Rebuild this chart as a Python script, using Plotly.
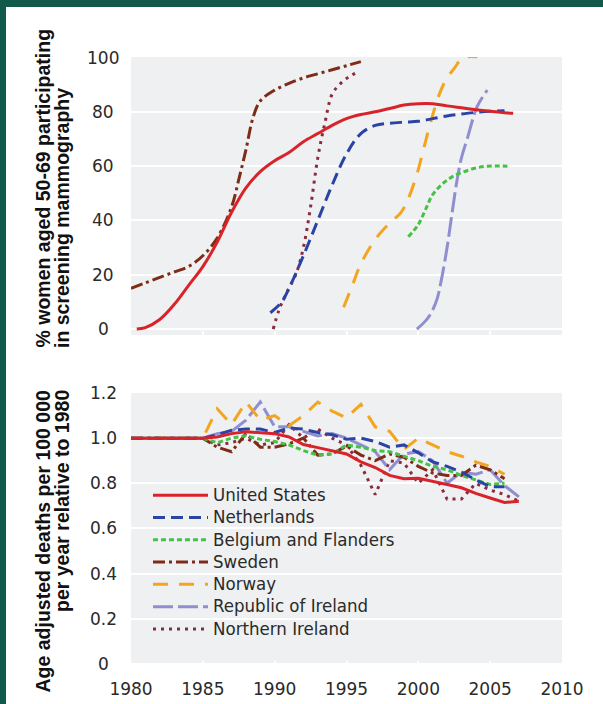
import plotly.graph_objects as go

# ---------------- data ----------------
countries = ["United States", "Netherlands", "Belgium and Flanders", "Sweden",
             "Norway", "Republic of Ireland", "Northern Ireland"]

colors = {
    "United States": "#d9232a",
    "Netherlands": "#2c43a6",
    "Belgium and Flanders": "#45c145",
    "Sweden": "#7e2c16",
    "Norway": "#f3a51f",
    "Republic of Ireland": "#8e8ed0",
    "Northern Ireland": "#8a2a3c",
}
dashes = {
    "United States": "solid",
    "Netherlands": "12px,6px",
    "Belgium and Flanders": "5px,3px",
    "Sweden": "12px,4px,3px,4px",
    "Norway": "15px,11px",
    "Republic of Ireland": "20px,5px",
    "Northern Ireland": "3px,5px",
}

# Participation in screening mammography, % of women aged 50-69
part_years = {
    "United States": [1980.4, 1981, 1982, 1983, 1984, 1985, 1986, 1987, 1988, 1989, 1990,
                      1991, 1992, 1993, 1994, 1995, 1996, 1997, 1998, 1999, 2000, 2001,
                      2002, 2003, 2004, 2005, 2006, 2006.6],
    "Netherlands": [1989.7, 1990.5, 1991, 1992, 1993, 1994, 1995, 1996, 1997, 1998, 1999,
                    2000, 2001, 2002, 2003, 2004, 2005, 2006],
    "Belgium and Flanders": [1999.3, 2000, 2000.5, 2001, 2001.8, 2002.5, 2003.2, 2004,
                             2004.8, 2006.2],
    "Sweden": [1980, 1981, 1982, 1983, 1984, 1985, 1986, 1987, 1987.5, 1988, 1988.5, 1989,
               1990, 1991, 1992, 1993, 1994, 1995, 1996],
    "Norway": [1994.8, 1995.4, 1996, 1997, 1998, 1998.8, 1999.3, 1999.9, 2000.4, 2000.9,
               2001.5, 2002, 2002.5, 2003, 2003.4, 2004.1],
    "Republic of Ireland": [1999.9, 2000.5, 2000.9, 2001.3, 2001.6, 2002, 2002.3, 2002.7,
                            2003, 2003.4, 2004.1, 2004.8],
    "Northern Ireland": [1989.9, 1990.3, 1990.8, 1991.5, 1992, 1992.5, 1993, 1993.5, 1994,
                         1994.6, 1995.2, 1995.9],
}
part_values = {
    "United States": [0, 0.5, 3.5, 9, 16, 23, 32, 43, 52, 58, 62, 65, 69, 72, 75, 77.5, 79,
                      80, 81.2, 82.5, 83, 83, 82.2, 81.5, 80.8, 80.2, 79.7, 79.5],
    "Netherlands": [6, 10, 15, 27, 40, 53, 64.5, 72, 75, 75.8, 76.2, 76.5, 77.5, 78.5, 79.2,
                    79.8, 80.2, 80.4],
    "Belgium and Flanders": [34, 38.5, 44, 49.5, 54, 56.5, 58, 59.3, 60, 60],
    "Sweden": [15, 17, 19, 21, 23, 27, 33.5, 45, 55, 66, 78, 84, 88, 90.5, 92.5, 94, 95.5,
               97, 98.5],
    "Norway": [8, 16, 24, 33, 39, 43, 48, 57, 67, 77, 87, 92.5, 96, 99.5, 100.3, 100.3],
    "Republic of Ireland": [0, 3, 6, 11, 18, 30, 41, 55, 63, 70, 82, 88],
    "Northern Ireland": [0, 7, 13, 20.5, 30, 45, 63, 76, 86.5, 90.5, 93, 95],
}

# Age adjusted breast cancer deaths per 100 000 per year, relative to 1980
mort_years = {
    "United States": list(range(1980, 2008)),
    "Netherlands": list(range(1980, 2007)),
    "Belgium and Flanders": list(range(1980, 2007)),
    "Sweden": list(range(1980, 2007)),
    "Norway": list(range(1980, 2007)),
    "Republic of Ireland": list(range(1980, 2008)),
    "Northern Ireland": list(range(1980, 2008)),
}
mort_values = {
    "United States": [1, 1, 1, 1, 1, 1, 1.005, 1.02, 1.028, 1.025, 1.02, 1.005, 0.972,
                      0.958, 0.945, 0.93, 0.895, 0.87, 0.835, 0.82, 0.822, 0.81, 0.795,
                      0.78, 0.755, 0.735, 0.715, 0.72],
    "Netherlands": [1, 1, 1, 1, 1, 1, 1.015, 1.035, 1.04, 1.04, 1.025, 1.045, 1.04, 1.025,
                    1.015, 0.995, 1.0, 0.985, 0.96, 0.97, 0.935, 0.895, 0.875, 0.85, 0.815,
                    0.785, 0.785],
    "Belgium and Flanders": [1, 1, 1, 1, 1, 1, 0.98, 1.0, 1.01, 0.995, 0.985, 0.97, 0.945,
                             0.925, 0.93, 0.97, 0.96, 0.945, 0.94, 0.92, 0.9, 0.875, 0.86,
                             0.835, 0.815, 0.795, 0.8],
    "Sweden": [1, 1, 1, 1, 1, 1, 0.96, 0.94, 1.02, 0.96, 0.96, 0.975, 1.0, 0.925, 0.93,
               0.965, 0.925, 0.9, 0.93, 0.915, 0.875, 0.845, 0.835, 0.835, 0.88, 0.86, 0.82],
    "Norway": [1, 1, 1, 1, 1, 1, 1.13, 1.06, 1.16, 1.08, 1.1, 1.055, 1.1, 1.16, 1.12, 1.09,
               1.15, 1.05, 1.03, 0.95, 1.0, 0.97, 0.94, 0.92, 0.895, 0.875, 0.84],
    "Republic of Ireland": [1, 1, 1, 1, 1, 1, 1.02, 1.03, 1.08, 1.16, 1.05, 1.05, 1.03,
                            1.01, 1.02, 1.0, 0.97, 0.94, 0.86, 0.93, 0.94, 0.9, 0.8, 0.85,
                            0.84, 0.86, 0.79, 0.74],
    "Northern Ireland": [1, 1, 1, 1, 1, 1, 0.97, 0.98, 1.0, 0.97, 0.98, 1.06, 1.0, 1.04,
                         1.0, 0.97, 0.88, 0.75, 0.9, 0.89, 0.8, 0.86, 0.73, 0.73, 0.8,
                         0.77, 0.75, 0.72],
}

x_ticks = [1980, 1985, 1990, 1995, 2000, 2005, 2010]
top_ticks = [0, 20, 40, 60, 80, 100]
bottom_ticks = [0, 0.2, 0.4, 0.6, 0.8, 1.0, 1.2]
bottom_tick_text = ["0", "0.2", "0.4", "0.6", "0.8", "1.0", "1.2"]

top_title_lines = ["% women aged 50-69 participating", "in screening mammography"]
bottom_title_lines = ["Age adjusted deaths per 100 000", "per year relative to 1980"]

# ---------------- layout geometry (pixels) ----------------
W, H = 603, 704
ML, MR, MT, MB = 131, 41, 57, 39
PW, PH = W - ML - MR, H - MT - MB


def px_x(px):
    return (px - ML) / PW


def px_y(py):
    return (H - MB - py) / PH


TICK_FONT = dict(family="DejaVu Sans", size=17, color="#2a2a2a")
TITLE_FONT = dict(family="Liberation Sans", size=19.5, color="#111111")
LEGEND_TEXT_PX = 18.5
GREEN = "#11594a"
PANEL_BG = "#eef0f1"

fig = go.Figure()

# draw order: United States last so it sits on top
draw_order = list(reversed(countries))

for c in draw_order:
    fig.add_trace(go.Scatter(
        x=part_years[c], y=part_values[c], mode="lines",
        line=dict(color=colors[c], width=3, dash=dashes[c], shape="spline", smoothing=1.0),
        xaxis="x", yaxis="y", showlegend=False, hoverinfo="skip", name=c,
    ))

for c in draw_order:
    fig.add_trace(go.Scatter(
        x=mort_years[c], y=mort_values[c], mode="lines",
        line=dict(color=colors[c], width=3, dash=dashes[c]),
        xaxis="x2", yaxis="y2", showlegend=True, hoverinfo="skip",
        name=f'<span style="font-size:{LEGEND_TEXT_PX}px">{c}</span>',
    ))

top_dom = [px_y(335), 1.0]
bot_dom = [0.0, px_y(393)]

common_x = dict(range=[1980, 2010], showgrid=False, zeroline=False, showline=False,
                tickvals=x_ticks, ticks="inside", ticklen=4, tickwidth=2,
                tickcolor="white", automargin=False)
common_y = dict(showticklabels=False, showgrid=True, gridcolor="white", gridwidth=2,
                zeroline=False, showline=False, ticks="", automargin=False)

fig.update_layout(
    width=W, height=H,
    margin=dict(l=ML, r=MR, t=MT, b=MB, autoexpand=False),
    paper_bgcolor="white", plot_bgcolor=PANEL_BG,
    xaxis=dict(domain=[0, 1], anchor="y", showticklabels=False, **common_x),
    yaxis=dict(domain=top_dom, anchor="x", range=[-2.2, 100.2], tickvals=top_ticks,
               **common_y),
    xaxis2=dict(domain=[0, 1], anchor="y2", showticklabels=True, tickfont=TICK_FONT,
                ticklabelstandoff=12, **common_x),
    yaxis2=dict(domain=bot_dom, anchor="x2", range=[-0.005, 1.2], tickvals=bottom_ticks,
                **common_y),
    legend=dict(x=px_x(148), y=px_y(479), xanchor="left", yanchor="top",
                bgcolor="rgba(0,0,0,0)", traceorder="reversed",
                font=dict(family="DejaVu Sans Condensed, DejaVu Sans", size=14.85,
                          color="#2a2a2a"),
                itemwidth=55, tracegroupgap=0),
    showlegend=True,
)

annotations = []
# y tick labels, centred in the left gutter
for v in top_ticks:
    annotations.append(dict(x=px_x(103), y=v, xref="paper", yref="y", text=str(v),
                            showarrow=False, xanchor="center", yanchor="middle",
                            font=TICK_FONT))
for v, t in zip(bottom_ticks, bottom_tick_text):
    annotations.append(dict(x=px_x(103), y=v, xref="paper", yref="y2", text=t,
                            showarrow=False, xanchor="center", yanchor="middle",
                            font=TICK_FONT))

# axis titles: upper one starts at a common baseline, lower one ends at a common top
for line, cx in zip(top_title_lines, [42, 62]):
    annotations.append(dict(x=px_x(cx), y=px_y(350), xref="paper", yref="paper",
                            text=f"<b>{line}</b>", textangle=-90, showarrow=False,
                            xanchor="center", yanchor="bottom", font=TITLE_FONT))
for line, cx in zip(bottom_title_lines, [42, 62]):
    annotations.append(dict(x=px_x(cx), y=px_y(388), xref="paper", yref="paper",
                            text=f"<b>{line}</b>", textangle=-90, showarrow=False,
                            xanchor="center", yanchor="top", font=TITLE_FONT))
fig.update_layout(annotations=annotations)

# dark green frame along the top and left edges
fig.add_shape(type="rect", xref="paper", yref="paper",
              x0=px_x(0), x1=px_x(W), y0=px_y(7), y1=px_y(0),
              fillcolor=GREEN, line=dict(width=0), layer="above")
fig.add_shape(type="rect", xref="paper", yref="paper",
              x0=px_x(0), x1=px_x(6), y0=px_y(H), y1=px_y(0),
              fillcolor=GREEN, line=dict(width=0), layer="above")

fig.write_html("out.html")
